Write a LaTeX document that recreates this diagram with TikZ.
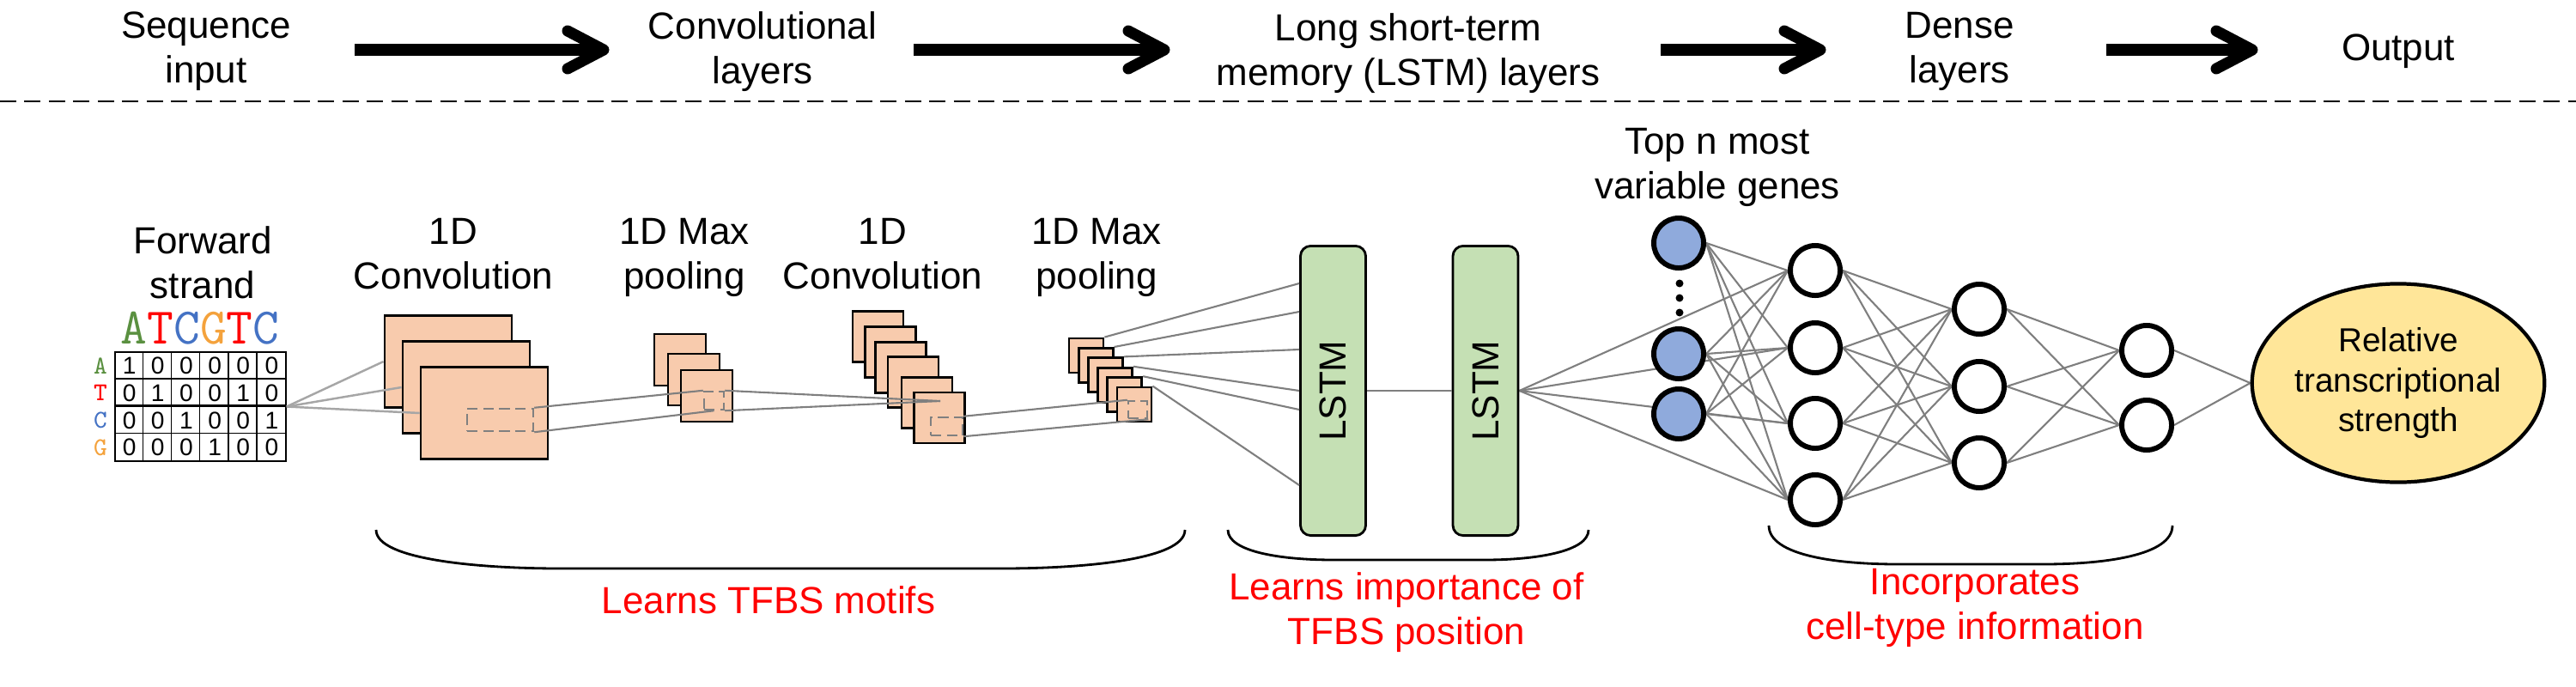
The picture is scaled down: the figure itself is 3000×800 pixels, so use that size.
\documentclass[tikz,border=0pt]{standalone}
\usepackage{fontspec}
\setmainfont{Liberation Sans}
\usepackage{graphicx}
\usetikzlibrary{calc,shapes.geometric,backgrounds}
\definecolor{peach}{HTML}{F8CBAD}
\definecolor{lstmgreen}{HTML}{C5E0B4}
\definecolor{nodeblue}{HTML}{8FAADC}
\definecolor{outyellow}{HTML}{FFE699}
\definecolor{linegray}{HTML}{7F7F7F}
\definecolor{lightwire}{HTML}{A6A6A6}
\definecolor{dashgray}{HTML}{808080}
\definecolor{nucA}{HTML}{5A9040}
\definecolor{nucT}{HTML}{FF0000}
\definecolor{nucC}{HTML}{4472C4}
\definecolor{nucG}{HTML}{F4A23C}
\tikzset{
  lbl/.style={font=\fontsize{12.5}{14.8}\selectfont, align=center, inner sep=0pt},
  redlbl/.style={lbl, text=red},
  flowarrow/.style={line width=3.7pt, draw=black},
  chev/.style={line width=3.7pt, draw=black, line cap=round, line join=round},
  sepline/.style={line width=0.85pt, dash pattern=on 5.4pt off 2.7pt},
  fmap/.style={draw=black, fill=peach, line width=0.8pt, inner sep=0pt},
  window/.style={draw=dashgray, dash pattern=on 3.5pt off 1.8pt, line width=0.7pt, inner sep=0pt},
  wire/.style={draw=linegray, line width=0.6pt},
  inwire/.style={draw=lightwire, line width=0.7pt},
  lstmbox/.style={draw=black, fill=lstmgreen, line width=0.8pt, rounded corners=3.4pt,
    minimum width=0.76cm, minimum height=3.37cm, inner sep=0pt, font=\fontsize{12.5}{14.8}\selectfont},
  gene/.style={circle, draw=black, fill=nodeblue, line width=1.7pt, minimum size=0.58cm, inner sep=0pt},
  neuron/.style={circle, draw=black, fill=white, line width=1.7pt, minimum size=0.58cm, inner sep=0pt},
  outnode/.style={ellipse, draw=black, fill=outyellow, line width=1.2pt, minimum width=2.66cm,
    minimum height=2.31cm, inner sep=0pt, align=center, font=\fontsize{11}{13.1}\selectfont},
  bracket/.style={line width=0.8pt, draw=black},
  digit/.style={font=\fontsize{8}{9}\selectfont, inner sep=0pt},
  rowlbl/.style={font=\ttfamily\fontsize{8.5}{9}\selectfont, inner sep=0pt},
  onehotbox/.style={draw=black, line width=0.4pt, minimum width=1.99cm, minimum height=1.27cm, inner sep=0pt},
}
\begin{document}
\begin{tikzpicture}[x=0.01cm,y=-0.01cm]
\useasboundingbox (0,0) rectangle (3000,800);

% ---------- top flow ----------
\node[lbl] (seq) at (240,60) {Sequence\\input};
\node[lbl] (convl) at (888,60) {Convolutional\\layers};
\node[lbl] (lstml) at (1640,62) {Long short-term\\memory (LSTM) layers};
\node[lbl] (densel) at (2282,60) {Dense\\layers};
\node[lbl] (outl) at (2793,60) {Output};
\foreach \n/\s/\e in {1/413/703,2/1064/1356,3/1934/2120,4/2453/2623} {
  \coordinate (a\n-s) at (\s,58);
  \coordinate (a\n-e) at (\e,58);
  \draw[flowarrow] (a\n-s) -- (a\n-e);
  \draw[chev] ($(a\n-e)+(-42,-22)$) -- (a\n-e) -- ($(a\n-e)+(-42,22)$);
}
\draw[sepline] (0,118) -- (3000,118);

% ---------- sequence input ----------
\node[lbl] (fwd) at (236,306) {Forward\\strand};
\node[font=\ttfamily\fontsize{17}{17}\selectfont, inner sep=0pt, anchor=base] (seqtxt) at (233,400)
  {\textcolor{nucA}{A}\textcolor{nucT}{T}\textcolor{nucC}{C}\textcolor{nucG}{G}\textcolor{nucT}{T}\textcolor{nucC}{C}};
\node[onehotbox] (onehot) at (233.5,473.5) {};
\foreach \i in {1,...,5}
  \draw[line width=0.4pt] ($(onehot.north west)+({33.17*\i},0)$) -- ($(onehot.south west)+({33.17*\i},0)$);
\foreach \j/\w in {1/0.4pt,2/0.9pt,3/0.4pt}
  \draw[line width=\w] ($(onehot.north west)+(0,{31.75*\j})$) -- ($(onehot.north east)+(0,{31.75*\j})$);
\foreach \row [count=\r from 0] in {{1,0,0,0,0,0},{0,1,0,0,1,0},{0,0,1,0,0,1},{0,0,0,1,0,0}} {
  \foreach \v [count=\c from 0] in \row {
    \node[digit] at ({150.6+33.17*\c},{425.9+31.75*\r}) {\v};
  }
}
\foreach \L/\col [count=\r from 0] in {A/nucA,T/nucT,C/nucC,G/nucG}
  \node[rowlbl, text=\col] at (117,{425.9+31.75*\r}) {\L};

% ---------- conv 1 ----------
\node[lbl] (conv1l) at (528,296) {1D\\Convolution};
\node[fmap, minimum width=1.48cm, minimum height=1.07cm] (c1a) at (522,421) {};
\node[fmap, minimum width=1.48cm, minimum height=1.07cm] (c1b) at (543,451) {};
\node[fmap, minimum width=1.48cm, minimum height=1.07cm] (c1c) at (564,481) {};
\node[window, minimum width=0.77cm, minimum height=0.26cm] (cd1) at (582.5,489) {};

% ---------- pool 1 ----------
\node[lbl] (pool1l) at (797,300) {1D Max\\pooling};
\node[fmap, minimum size=0.60cm] (p1a) at (792,419) {};
\node[fmap, minimum size=0.60cm] (p1b) at (808,442) {};
\node[fmap, minimum size=0.60cm] (p1c) at (823,461) {};
\node[window, minimum width=0.23cm, minimum height=0.21cm] (pd1) at (831.5,466.5) {};

% ---------- conv 2 ----------
\node[lbl] (conv2l) at (1028,296) {1D\\Convolution};
\foreach \k/\px/\py in {1/1022.5/392,2/1037/410,3/1049/428,4/1063.5/445,5/1079.5/469,6/1094/486.5}
  \node[fmap, minimum size=0.59cm] (c2m\k) at (\px,\py) {};
\node[window, minimum width=0.37cm, minimum height=0.21cm] (cd2) at (1102.5,496.5) {};
\coordinate (c2pt) at (1095,467);

% ---------- pool 2 ----------
\node[lbl] (pool2l) at (1277,300) {1D Max\\pooling};
\foreach \k in {0,...,5}
  \node[fmap, minimum size=0.40cm] (p2m\k) at ({1265+11.2*\k},{414+11.4*\k}) {};
\node[window, minimum width=0.22cm, minimum height=0.20cm] (pd2) at (1325,477) {};

% ---------- LSTM ----------
\node[lstmbox] (lstm1) at (1552.5,455) {\rotatebox{90}{LSTM}};
\node[lstmbox] (lstm2) at (1730,455) {\rotatebox{90}{LSTM}};

% ---------- wires (CNN part) ----------
\draw[inwire] (onehot.east) -- (c1a.west);
\draw[inwire] (onehot.east) -- (c1b.west);
\draw[inwire] (onehot.east) -- (c1c.west);
\draw[wire] (cd1.north east) -- (pd1.north west);
\draw[wire] (cd1.south east) -- (pd1.south);
\draw[wire] (pd1.north east) -- (c2pt);
\draw[wire] (pd1.south east) -- (c2pt);
\draw[wire] (cd2.north east) -- (pd2.north west);
\draw[wire] (cd2.south east) -- (pd2.south east);
\foreach \k/\dy in {0/-125,1/-92,2/-48,3/0,4/22,5/110}
  \draw[wire] (p2m\k.north east) -- ($(lstm1.west)+(0,\dy)$);
\draw[wire] (lstm1.east) -- (lstm2.west);

% ---------- dense network ----------
\node[lbl] (genesl) at (2000,195) {Top n most\\variable genes};
\node[gene] (g1) at (1955,283) {};
\node[gene] (g2) at (1955,412) {};
\node[gene] (g3) at (1955,482) {};
\foreach \yy in {330,347,364} \fill (1956,\yy) circle (0.045cm);
\foreach \k/\yy in {1/315,2/405,3/493,4/582} \node[neuron] (h1\k) at (2114,\yy) {};
\foreach \k/\yy in {1/360,2/450,3/539} \node[neuron] (h2\k) at (2305,\yy) {};
\foreach \k/\yy in {1/408,2/495} \node[neuron] (h3\k) at (2500,\yy) {};
\node[outnode] (out) at (2793,446) {Relative\\transcriptional\\strength};

\begin{scope}[on background layer]
  \foreach \b in {1,2,3,4} \draw[wire] (lstm2.east) -- (h1\b.west);
  \foreach \a in {1,2,3} \foreach \b in {1,2,3,4} \draw[wire] (g\a.east) -- (h1\b.west);
  \foreach \a in {1,2,3,4} \foreach \b in {1,2,3} \draw[wire] (h1\a.east) -- (h2\b.west);
  \foreach \a in {1,2,3} \foreach \b in {1,2} \draw[wire] (h2\a.east) -- (h3\b.west);
  \foreach \a in {1,2} \draw[wire] (h3\a.east) -- (out.west);
\end{scope}

% ---------- brackets and notes ----------
\draw[bracket] (438,617) .. controls (438,652) and (560,662) .. (652,662) -- (1167,662)
  .. controls (1260,662) and (1380,652) .. (1380,617);
\draw[bracket] (1430,617) .. controls (1430,642) and (1490,652) .. (1553,652) -- (1729,652)
  .. controls (1790,652) and (1850,642) .. (1850,617);
\draw[bracket] (2060,612) .. controls (2060,647) and (2140,657) .. (2210,657) -- (2380,657)
  .. controls (2450,657) and (2530,647) .. (2530,612);
\node[redlbl] (note1) at (895,699) {Learns TFBS motifs};
\node[redlbl] (note2) at (1638,713) {Learns importance of\\TFBS position};
\node[redlbl] (note3) at (2300,708) {Incorporates\\cell-type information};
\end{tikzpicture}
\end{document}
